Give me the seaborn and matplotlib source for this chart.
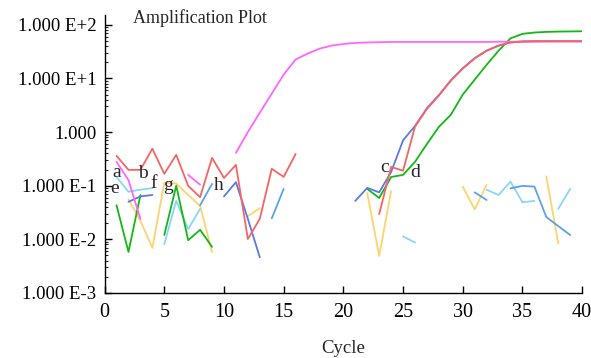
import numpy as np
import pandas as pd
import matplotlib
matplotlib.use('Agg')
import matplotlib.pyplot as plt
from matplotlib.ticker import LogLocator, NullFormatter
import seaborn as sns

nan = np.nan
cycles = list(range(1, 41))

# fluorescence per cycle for each well (nan = not drawn)
red = [0.36, 0.197, 0.197, 0.49, 0.166, 0.376, 0.099, 0.061, 0.33, 0.139,
       0.244, 0.0101, 0.024, 0.206, 0.146, 0.39, nan, nan, nan, nan,
       nan, nan, 0.0295, 0.224, 0.19, 1.26, 2.7, 4.8, 9.1, 15.3,
       23.6, 33, 41, 47, 49, 49.6, 49.6, 49.6, 49.6, 49.6]
royal = [nan, 0.05, 0.063, 0.067, nan, nan, nan, nan, nan, 0.063,
         0.116, 0.024, 0.0046, nan, nan, nan, nan, nan, nan, nan,
         0.052, 0.091, 0.075, 0.18, 0.7, 1.3, 2.8, 4.9, 9.2, 15.5,
         24, 33, 41, 47, 49, 49.5, 49.5, 49.5, 49.5, 49.5]
green = [0.043, 0.0058, 0.067, nan, 0.012, 0.1, 0.0096, 0.015, 0.0072, nan,
         nan, nan, nan, nan, nan, nan, nan, nan, nan, nan,
         nan, 0.087, 0.059, 0.145, 0.159, 0.278, 0.6, 1.25, 2.1, 5.0,
         9.5, 18, 33, 56, 68, 72, 74, 75, 75.5, 76]
magenta = [0.278, 0.127, 0.024, nan, nan, nan, 0.159, 0.104, nan, nan,
           0.41, 1.0, 2.3, 5.2, 11.8, 22.6, 29, 36, 41, 44,
           46, 47, 47.5, 48, 48, 48, 48, 48, 48, 48,
           48, 48, 48.5, 48.5, 48.5, 48.5, 49, 49, 49, 49]
dodger = [nan, nan, nan, nan, nan, nan, nan, 0.043, 0.108, nan,
          nan, nan, nan, 0.0245, 0.087, nan, nan, nan, nan, nan,
          nan, nan, nan, nan, nan, nan, nan, nan, nan, nan,
          0.075, 0.054, nan, 0.089, 0.099, 0.096, 0.026, 0.0176, 0.012, nan]
sky_early = [0.145, 0.077, 0.084, 0.09] + [nan] * 36
sky = [nan, nan, nan, nan, 0.0081, 0.052, 0.0155, 0.037, nan, nan,
       nan, nan, nan, nan, nan, nan, nan, nan, nan, nan,
       nan, nan, nan, nan, 0.0113, 0.0087, nan, nan, nan, nan,
       nan, 0.084, 0.067, 0.119, 0.049, 0.052, nan, 0.037, 0.087, nan]
yellow = [nan, 0.056, 0.022, 0.0069, 0.112, 0.11, 0.067, 0.042, 0.0058, nan,
          nan, 0.027, 0.038, nan, nan, nan, nan, nan, nan, nan,
          nan, 0.073, 0.0049, 0.079, nan, nan, nan, nan, nan, 0.096,
          0.036, 0.104, nan, nan, nan, nan, 0.148, 0.0084, nan, nan]

wells = {'yellow': yellow, 'sky_early': sky_early, 'sky': sky, 'dodger': dodger,
         'green': green, 'royal': royal, 'magenta': magenta, 'red': red}
colors = {'yellow': '#ffd36e', 'sky_early': '#8ad6fa', 'sky': '#8ad6fa',
          'dodger': '#5aa2f0', 'green': '#14b814', 'royal': '#5b78e8',
          'magenta': '#ff66ff', 'red': '#f66464'}

label_names = ['a', 'e', 'b', 'f', 'g', 'h', 'c', 'd']
label_x = [1.0, 0.86, 3.24, 4.07, 5.33, 9.52, 23.44, 26.0]
label_y = [0.178, 0.087, 0.166, 0.108, 0.1, 0.1, 0.22, 0.178]

rows = []
seg = 0
for name, vals in wells.items():
    prev = False
    for c, v in zip(cycles, vals):
        if np.isnan(v):
            prev = False
            continue
        if not prev:
            seg += 1
        prev = True
        rows.append({'cycle': c, 'value': v, 'well': name, 'seg': seg})
df = pd.DataFrame(rows)

sns.set_style('ticks')
plt.rcParams['font.family'] = ['Liberation Serif', 'DejaVu Serif']

fig = plt.figure(figsize=(5.91, 3.58), dpi=100)
ax = fig.add_axes([0.177, 0.182, 0.808, 0.777])

sns.lineplot(data=df, x='cycle', y='value', hue='well', units='seg',
             estimator=None, palette=colors, hue_order=list(wells),
             legend=False, lw=1.3, ax=ax, sort=False)

ax.set_yscale('log')
ax.set_xlim(0, 40)
ax.set_ylim(1e-3, 155)
ax.set_xticks(range(0, 41, 5))
ax.set_yticks([1e-3, 1e-2, 1e-1, 1, 10, 100])
ax.set_yticklabels(['1.000 E-3', '1.000 E-2', '1.000 E-1', '1.000',
                    '1.000 E+1', '1.000 E+2'])
ax.yaxis.set_minor_locator(LogLocator(base=10, subs=np.arange(2, 10)))
ax.yaxis.set_minor_formatter(NullFormatter())
ax.tick_params(axis='both', which='major', direction='in', length=5,
               width=1, colors='black')
ax.tick_params(axis='x', pad=7, labelsize=14.5)
ax.tick_params(axis='y', pad=6, labelsize=13.5)
ax.tick_params(axis='y', which='minor', direction='in', length=2.5, width=0.8)
for s in ['top', 'right']:
    ax.spines[s].set_visible(False)
for s in ['left', 'bottom']:
    ax.spines[s].set_linewidth(1)
    ax.spines[s].set_color('black')
ax.set_xlabel('Cycle', fontsize=13.5, labelpad=13)
ax.set_ylabel('')

for t, x, y in zip(label_names, label_x, label_y):
    ax.text(x, y, t, fontsize=14, ha='center', va='center')

fig.text(133 / 591, 1 - 18 / 358, 'Amplification Plot', fontsize=13, va='center')

fig.savefig('out.png', dpi=100)
